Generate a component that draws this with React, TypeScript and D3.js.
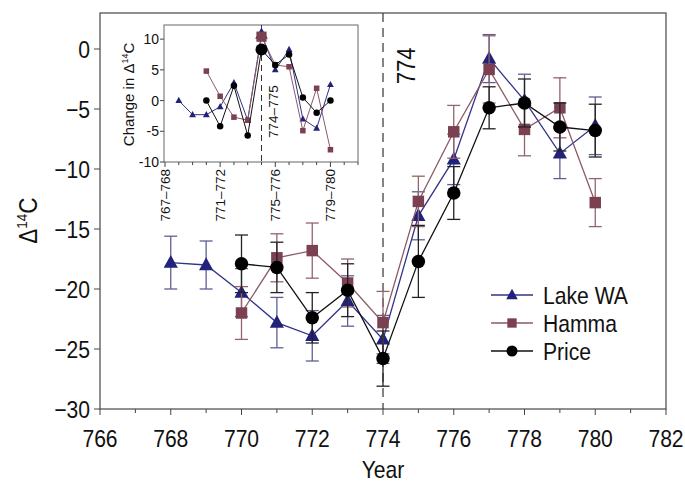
import React, { useRef, useEffect } from "react";
import { select, scaleLinear, scalePoint, line, range } from "d3";

// main panel: Δ14C by year
const lakeYears = [768, 769, 770, 771, 772, 773, 774, 775, 776, 777, 778, 779, 780];
const lakeValues = [-17.8, -18.0, -20.3, -22.8, -23.9, -21.0, -24.2, -13.9, -9.2, -0.8, -4.3, -8.7, -6.4];
const lakeErrors = [2.2, 2.0, 2.0, 2.1, 2.1, 2.1, 2.0, 2.0, 2.1, 2.0, 2.2, 2.1, 2.4];

const hammaYears = [770, 771, 772, 773, 774, 775, 776, 777, 778, 779, 780];
const hammaValues = [-22.0, -17.4, -16.8, -19.5, -22.8, -12.7, -6.9, -1.7, -6.7, -4.9, -12.8];
const hammaErrors = [2.2, 2.0, 2.3, 2.0, 2.6, 2.1, 2.2, 2.8, 2.2, 2.5, 2.0];

const priceYears = [770, 771, 772, 773, 774, 775, 776, 777, 778, 779, 780];
const priceValues = [-17.9, -18.2, -22.4, -20.1, -25.8, -17.7, -12.0, -4.9, -4.5, -6.5, -6.8];
const priceErrors = [2.4, 2.1, 2.1, 2.2, 2.3, 3.0, 2.2, 1.75, 2.0, 2.0, 2.2];

const xTicks = [766, 768, 770, 772, 774, 776, 778, 780, 782];
const yTicks = [-30, -25, -20, -15, -10, -5, 0];

// inset: change in Δ14C per year interval
const intervals = [
  "767–768", "768–769", "769–770", "770–771", "771–772", "772–773", "773–774",
  "774–775", "775–776", "776–777", "777–778", "778–779", "779–780", "780–781", "781–782",
];
const insetLabels = ["767–768", "771–772", "775–776", "779–780"];
const insetYTicks = [-10, -5, 0, 5, 10];

const lakeDiffIntervals = ["768–769", "769–770", "770–771", "771–772", "772–773", "773–774", "774–775", "775–776", "776–777", "777–778", "778–779", "779–780"];
const lakeDiffs = [0, -2.3, -2.3, -1.0, 2.9, -3.2, 10.8, 5.0, 8.3, -3.0, -4.5, 2.6];
const hammaDiffIntervals = ["770–771", "771–772", "772–773", "773–774", "774–775", "775–776", "776–777", "777–778", "778–779", "779–780"];
const hammaDiffs = [4.8, 0.7, -2.7, -3.2, 10.4, 5.8, 5.5, -4.9, 2.0, -8.0];
const priceDiffIntervals = ["770–771", "771–772", "772–773", "773–774", "774–775", "775–776", "776–777", "777–778", "778–779", "779–780"];
const priceDiffs = [0, -4.2, 2.4, -5.7, 8.3, 5.8, 7.5, 0.5, -2.0, 0];

const FONT = "'Liberation Sans', Arial, sans-serif";

const series = [
  { name: "Lake WA", years: lakeYears, values: lakeValues, errors: lakeErrors, di: lakeDiffIntervals, diffs: lakeDiffs, marker: "triangle", color: "#22227a", lineColor: "#33338a", errColor: "#5e5e96" },
  { name: "Hamma", years: hammaYears, values: hammaValues, errors: hammaErrors, di: hammaDiffIntervals, diffs: hammaDiffs, marker: "square", color: "#7b4150", lineColor: "#8c5a66", errColor: "#93646e" },
  { name: "Price", years: priceYears, values: priceValues, errors: priceErrors, di: priceDiffIntervals, diffs: priceDiffs, marker: "circle", color: "#000000", lineColor: "#111111", errColor: "#222222" },
];

function drawMarker(g, type, x, y, size, color) {
  if (type === "circle") {
    g.append("circle").attr("cx", x).attr("cy", y).attr("r", size * 0.5).attr("fill", color);
  } else if (type === "square") {
    const s = size * 0.85;
    g.append("rect").attr("x", x - s / 2).attr("y", y - s / 2).attr("width", s).attr("height", s).attr("fill", color);
  } else {
    const h = size * 0.95;
    const w = size * 1.05;
    g.append("path")
      .attr("d", `M${x},${y - h * 0.6}L${x + w / 2},${y + h * 0.4}L${x - w / 2},${y + h * 0.4}Z`)
      .attr("fill", color);
  }
}

// tall, slightly narrow text like the reference
function label(svg, x, y, txt, anchor, size = 24, rotate = 0) {
  return svg.append("text")
    .attr("transform", `translate(${x},${y}) rotate(${rotate}) scale(0.88,1)`)
    .attr("text-anchor", anchor).attr("font-family", FONT).attr("font-size", size).attr("fill", "#111")
    .text(txt);
}

const App = () => {
  const svgRef = useRef(null);

  useEffect(() => {
    const svg = select(svgRef.current);
    svg.selectAll("*").remove();

    const left = 100, right = 666, top = 13, bottom = 409;
    const x = scaleLinear().domain([766, 782]).range([left, right]);
    const y = scaleLinear().domain([-30, 3]).range([bottom, top]);

    // frame
    svg.append("rect")
      .attr("x", left).attr("y", top).attr("width", right - left).attr("height", bottom - top)
      .attr("fill", "none").attr("stroke", "#555").attr("stroke-width", 1.3);

    // y axis ticks
    yTicks.forEach((t) => {
      svg.append("line").attr("x1", left - 6).attr("x2", left).attr("y1", y(t)).attr("y2", y(t)).attr("stroke", "#444");
      label(svg, left - 10, y(t) + 8.5, t < 0 ? `−${-t}` : `${t}`, "end");
    });

    // x axis ticks
    range(766, 783).forEach((t) => {
      const major = t % 2 === 0;
      svg.append("line").attr("x1", x(t)).attr("x2", x(t)).attr("y1", bottom).attr("y2", bottom + (major ? 6 : 4)).attr("stroke", "#444");
    });
    xTicks.forEach((t) => label(svg, x(t), bottom + 38, `${t}`, "middle"));

    label(svg, x(774), 478, "Year", "middle");

    const yl = svg.append("text").attr("transform", `translate(37,${y(-14.3)}) rotate(-90) scale(0.9,1)`)
      .attr("text-anchor", "middle").attr("font-family", FONT).attr("font-size", 25).attr("fill", "#111");
    yl.append("tspan").text("Δ");
    yl.append("tspan").attr("font-size", 15).attr("dy", -10).text("14");
    yl.append("tspan").attr("dy", 10).text("C");

    // dashed 774 line
    svg.append("line").attr("x1", x(774)).attr("x2", x(774)).attr("y1", top).attr("y2", bottom)
      .attr("stroke", "#333").attr("stroke-width", 1.2).attr("stroke-dasharray", "9,6");
    label(svg, x(774) + 32, y(-1.4), "774", "middle", 25, -90);

    // series
    series.forEach((s) => {
      const pts = s.years.map((yr, i) => ({ yr, v: s.values[i], e: s.errors[i] }));
      const g = svg.append("g");
      pts.forEach((p) => {
        g.append("line").attr("x1", x(p.yr)).attr("x2", x(p.yr)).attr("y1", y(p.v - p.e)).attr("y2", y(p.v + p.e))
          .attr("stroke", s.errColor).attr("stroke-width", 1.3);
        [p.v - p.e, p.v + p.e].forEach((c) => {
          g.append("line").attr("x1", x(p.yr) - 6.5).attr("x2", x(p.yr) + 6.5).attr("y1", y(c)).attr("y2", y(c))
            .attr("stroke", s.errColor).attr("stroke-width", 1.3);
        });
      });
      g.append("path")
        .attr("d", line().x((p) => x(p.yr)).y((p) => y(p.v))(pts))
        .attr("fill", "none").attr("stroke", s.lineColor).attr("stroke-width", 1.3);
      pts.forEach((p) => drawMarker(g, s.marker, x(p.yr), y(p.v), 13.5, s.color));
    });

    // legend
    series.forEach((s, i) => {
      const ly = 295 + i * 28;
      svg.append("line").attr("x1", 491).attr("x2", 533).attr("y1", ly).attr("y2", ly).attr("stroke", s.lineColor).attr("stroke-width", 1.3);
      drawMarker(svg, s.marker, 512, ly, 11, s.color);
      label(svg, 543, ly + 8.5, s.name, "start");
    });

    // inset
    const iL = 164, iR = 358, iT = 25, iB = 162;
    const ix = scalePoint().domain(intervals).range([iL + 1, iR]);
    const iy = scaleLinear().domain([-10, 12.3]).range([iB, iT]);

    svg.append("rect").attr("x", iL).attr("y", iT).attr("width", iR - iL).attr("height", iB - iT)
      .attr("fill", "#fff").attr("stroke", "#666").attr("stroke-width", 1);

    insetYTicks.forEach((t) => {
      svg.append("line").attr("x1", iL - 4).attr("x2", iL).attr("y1", iy(t)).attr("y2", iy(t)).attr("stroke", "#444");
      svg.append("text").attr("x", iL - 5).attr("y", iy(t)).attr("dy", "0.36em").attr("text-anchor", "end")
        .attr("font-family", FONT).attr("font-size", 14).attr("fill", "#111").text(t);
    });
    intervals.forEach((c) => {
      const major = insetLabels.includes(c);
      svg.append("line").attr("x1", ix(c)).attr("x2", ix(c)).attr("y1", iB).attr("y2", iB + (major ? 5 : 3)).attr("stroke", "#444");
    });
    insetLabels.forEach((c) => {
      svg.append("text").attr("transform", `translate(${ix(c)},${iB + 7}) rotate(-90)`).attr("dy", "0.36em")
        .attr("text-anchor", "end").attr("font-family", FONT).attr("font-size", 13.5).attr("fill", "#111").text(c);
    });

    const il = svg.append("text").attr("transform", `translate(134,${iy(1)}) rotate(-90)`)
      .attr("text-anchor", "middle").attr("font-family", FONT).attr("font-size", 15).attr("fill", "#111");
    il.append("tspan").text("Change in  Δ");
    il.append("tspan").attr("font-size", 9).attr("dy", -6).text("14");
    il.append("tspan").attr("dy", 6).text("C");

    svg.append("line").attr("x1", ix("774–775")).attr("x2", ix("774–775")).attr("y1", iT).attr("y2", iB)
      .attr("stroke", "#333").attr("stroke-width", 1).attr("stroke-dasharray", "6,4");
    svg.append("text").attr("transform", `translate(${ix("774–775") + 12},${iy(-1.8)}) rotate(-90)`)
      .attr("text-anchor", "middle").attr("dy", "0.36em").attr("font-family", FONT).attr("font-size", 13.5)
      .attr("fill", "#111").text("774–775");

    series.forEach((s) => {
      const pts = s.di.map((c, i) => ({ c, v: s.diffs[i] }));
      const g = svg.append("g");
      g.append("path").attr("d", line().x((p) => ix(p.c)).y((p) => iy(p.v))(pts))
        .attr("fill", "none").attr("stroke", s.lineColor).attr("stroke-width", 1);
      pts.forEach((p) => drawMarker(g, s.marker, ix(p.c), iy(p.v), p.c === "774–775" ? 12 : 6.5, s.color));
    });
  }, []);

  return (
    <div style={{ position: "absolute", left: 0, top: 0 }}>
      <svg ref={svgRef} width={685} height={484} style={{ display: "block", background: "#fff" }} />
    </div>
  );
};

export default App;
